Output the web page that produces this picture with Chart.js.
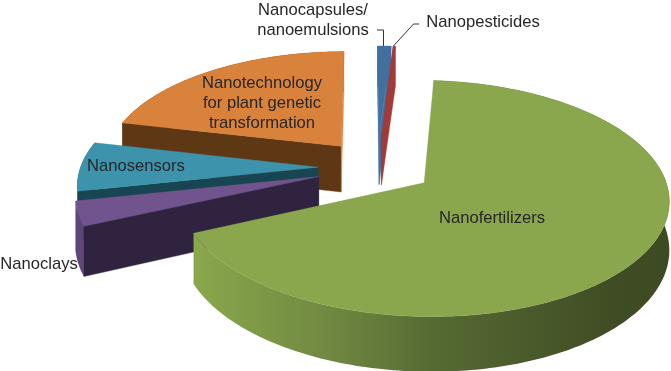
<!DOCTYPE html>
<html>
<head>
<meta charset="utf-8">
<style>html,body{margin:0;padding:0;background:#fff}canvas{display:block}</style>
<script src="https://cdn.jsdelivr.net/npm/chart.js@4/dist/chart.umd.min.js"></script>
</head>
<body>
<canvas id="c" width="671" height="371"></canvas>
<script>
// Data, in the clockwise order of the pie, starting at the top
const categories = ['Nanocapsules/nanoemulsions','Nanopesticides','Nanofertilizers','Nanoclays','Nanosensors','Nanotechnology for plant genetic transformation'];
const shares = [1.06, 0.17, 67.13, 3.42, 6.94, 21.28];

// Styles, per slice (null: that face is hidden and is not painted)
const topColors   = ['#41709f','#a23a38','#8aa74d','#71548e','#3c93ab','#d9823b'];
const startColors = ['#41709f','#a23a38',null,'#2f2340','#174552','#5e3815'];
const endColors   = ['#41709f','#a23a38',null,null,null,'#e0893f'];
const rimColors   = ['#41709f','#a23a38',null,'#5f4679','#174552','#5e3815'];
const pulls       = [0.262,0.262,0.235,0.257,0.249,0.25];
const rimStops    = [[0,'#8aa84c'],[0.32,'#6d8440'],[0.5,'#566a33'],[0.88,'#404d24'],[1,'#3d4a22']];
const projection  = {sx:1.42, sy:0.669, persp:0.13, depth:47};

// Text
const textFont = '16.6px "Liberation Sans", Arial, sans-serif';
const textColor = '#262626';
const captions = [
  {lines:['Nanocapsules/','nanoemulsions'], x:313, y:10, lh:20},
  {lines:['Nanopesticides'], x:483, y:22, lh:20},
  {lines:['Nanofertilizers'], x:492, y:218, lh:20},
  {lines:['Nanoclays'], x:39, y:264, lh:20},
  {lines:['Nanosensors'], x:136, y:166, lh:20},
  {lines:['Nanotechnology','for plant genetic','transformation'], x:262, y:83, lh:20}
];
const leaders = [
  [[377,30],[383.5,30],[383.5,46]],
  [[419,24],[413.5,24],[393.5,46]]
];

const pie3d = {
  id:'pie3d',
  beforeDatasetsDraw(chart){
    const ctx = chart.ctx;
    const arcs = chart.getDatasetMeta(0).data;
    const P = projection;
    const slices = arcs.map((arc,i)=>{
      const R = arc.outerRadius;
      const mid = (arc.startAngle+arc.endAngle)/2;
      const ox = Math.cos(mid)*pulls[i], oy = Math.sin(mid)*pulls[i];
      const project = (u,v,z)=>{
        const U=u+ox, V=v+oy, w=1-P.persp*V;
        return [arc.x+P.sx*R*U/w, arc.y+P.sy*R*V/w+(z?P.depth/w:0)];
      };
      const n = Math.max(2,Math.ceil((arc.endAngle-arc.startAngle)/(Math.PI/180)));
      const rimTop=[], rimBot=[];
      for(let k=0;k<=n;k++){
        const a = arc.startAngle+(arc.endAngle-arc.startAngle)*k/n;
        rimTop.push(project(Math.cos(a),Math.sin(a),false));
        rimBot.push(project(Math.cos(a),Math.sin(a),true));
      }
      return {i,oy,apexTop:project(0,0,false),apexBot:project(0,0,true),rimTop,rimBot};
    });
    const fill=(pts,color,noStroke)=>{
      if(!color) return;
      ctx.beginPath();
      pts.forEach((p,k)=>k?ctx.lineTo(p[0],p[1]):ctx.moveTo(p[0],p[1]));
      ctx.closePath();
      ctx.fillStyle=color; ctx.fill();
      if(!noStroke){ctx.strokeStyle=color; ctx.lineWidth=0.4; ctx.stroke();}
    };
    ctx.save();
    slices.slice().sort((a,b)=>a.oy-b.oy).forEach(s=>{
      const i=s.i, last=s.rimTop.length-1;
      let rim=rimColors[i];
      if(!rim){
        const xs=s.rimBot.map(p=>p[0]);
        const g=ctx.createLinearGradient(Math.min(...xs),0,Math.max(...xs),0);
        rimStops.forEach(st=>g.addColorStop(st[0],st[1]));
        rim=g;
      }
      fill(s.rimTop.concat(s.rimBot.slice().reverse()),rim,true);
      fill([s.apexTop,s.rimTop[0],s.rimBot[0],s.apexBot],startColors[i]);
      fill([s.apexTop,s.rimTop[last],s.rimBot[last],s.apexBot],endColors[i]);
      fill([s.apexTop].concat(s.rimTop),topColors[i]);
    });
    ctx.restore();
    return false;
  },
  afterDraw(chart){
    const ctx=chart.ctx;
    ctx.save();
    ctx.strokeStyle='#333'; ctx.lineWidth=1;
    leaders.forEach(l=>{
      ctx.beginPath();
      l.forEach((p,k)=>k?ctx.lineTo(p[0],p[1]):ctx.moveTo(p[0],p[1]));
      ctx.stroke();
    });
    ctx.font=textFont; ctx.fillStyle=textColor;
    ctx.textAlign='center'; ctx.textBaseline='middle';
    captions.forEach(c=>c.lines.forEach((t,k)=>ctx.fillText(t,c.x,c.y+k*c.lh)));
    ctx.restore();
  }
};

new Chart(document.getElementById('c'),{
  type:'pie',
  data:{labels:categories,datasets:[{data:shares,backgroundColor:topColors,borderWidth:0}]},
  options:{
    responsive:false,animation:false,rotation:-0.4,
    layout:{padding:{left:84,right:0,top:0,bottom:36}},
    plugins:{legend:{display:false},tooltip:{enabled:false},title:{display:false}}
  },
  plugins:[pie3d]
});
</script>
</body>
</html>
